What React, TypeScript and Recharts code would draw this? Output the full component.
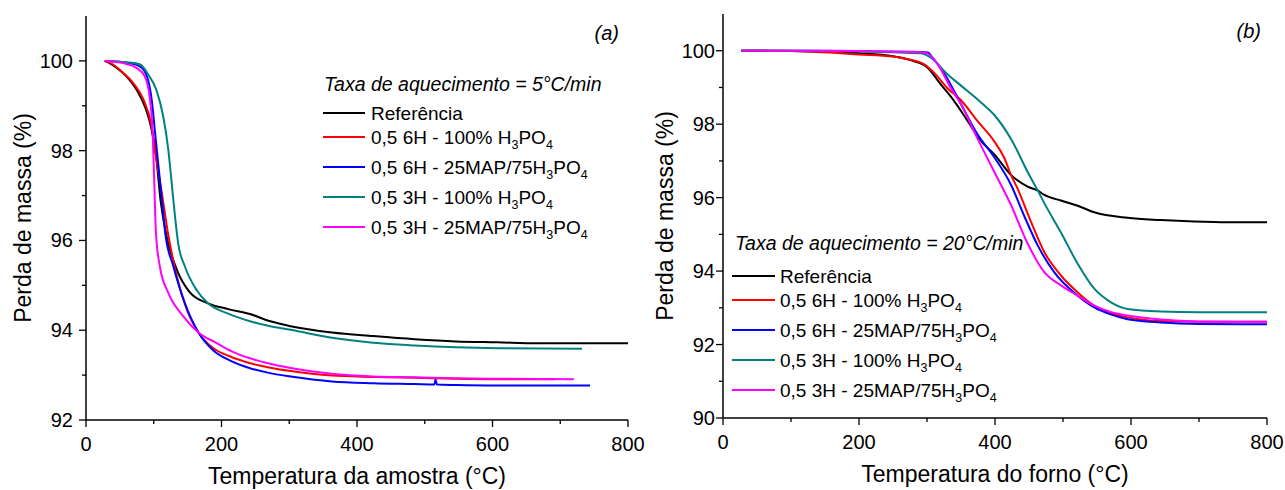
import React from "react";
import { LineChart, Line, XAxis, YAxis, Legend } from "recharts";

const FONT = "'Liberation Sans', Arial, Helvetica, sans-serif";

type Pt = { t: number; m: number };
const pts = (arr: number[][]): Pt[] => arr.map(([t, m]) => ({ t, m }));

// (a) taxa 5 °C/min — temperatura da amostra
const refA = pts([
  [28, 100], [45, 99.85], [60, 99.65], [75, 99.35], [87, 98.98], [97, 98.46], [104, 97.8],
  [110, 96.9], [119, 96.09], [134, 95.35], [153, 94.85], [180, 94.6], [210, 94.47], [242, 94.36],
  [272, 94.2], [302, 94.09], [363, 93.95], [424, 93.87], [485, 93.8], [546, 93.75], [607, 93.73],
  [668, 93.71], [730, 93.71], [800, 93.71],
]);
const red6A = pts([
  [27, 100], [40, 99.92], [55, 99.73], [70, 99.5], [85, 99.13], [97, 98.54], [104, 97.8],
  [112, 97.05], [121, 96.16], [134, 95.2], [149, 94.45], [166, 93.95], [186, 93.62],
  [212, 93.42], [241, 93.27], [270, 93.17], [302, 93.09], [363, 92.99], [424, 92.96],
  [485, 92.94], [546, 92.92], [607, 92.91], [692, 92.91],
]);
const map6A = pts([
  [29, 100], [60, 99.96], [80, 99.87], [90, 99.65], [97, 99.13], [102, 98.39], [107, 97.65],
  [112, 96.9], [117, 96.16], [129, 95.42], [146, 94.6], [166, 93.95], [188, 93.55],
  [212, 93.33], [241, 93.16], [270, 93.05], [302, 92.97], [363, 92.86], [424, 92.82],
  [485, 92.8], [514, 92.79], [516, 92.9], [518, 92.79], [546, 92.78], [607, 92.77], [744, 92.77],
]);
const h3A = pts([
  [29, 100], [60, 99.97], [80, 99.92], [92, 99.69], [104, 99.35], [114, 98.76], [121.5, 98.02],
  [126.5, 97.28], [131.4, 96.53], [136, 95.94], [146, 95.42], [163, 94.9], [180, 94.6],
  [210, 94.37], [242, 94.2], [272, 94.09], [302, 94.01], [363, 93.83], [424, 93.72],
  [485, 93.66], [546, 93.62], [607, 93.6], [732, 93.59],
]);
const map3A = pts([
  [28, 100], [55, 99.95], [75, 99.84], [87, 99.65], [94.5, 99.13], [98.4, 98.39], [100.8, 97.28],
  [103.3, 96.16], [109, 95.42], [121.5, 94.83], [143.6, 94.31], [166, 93.95], [192, 93.72],
  [215, 93.53], [241, 93.38], [270, 93.26], [302, 93.16], [363, 93.03], [424, 92.97],
  [485, 92.95], [546, 92.93], [607, 92.92], [720, 92.91],
]);

// (b) taxa 20 °C/min — temperatura do forno
const refB = pts([
  [27, 100], [100, 99.99], [200, 99.93], [250, 99.85], [280, 99.72], [300, 99.55], [320, 99.09],
  [340, 98.63], [360, 98.08], [379, 97.55], [399, 97.18], [423.5, 96.62], [448, 96.3],
  [463, 96.19], [472, 96.08], [497, 95.92], [521.6, 95.78], [546, 95.6], [595, 95.45],
  [644, 95.39], [693, 95.35], [742, 95.33], [800, 95.33],
]);
const red6B = pts([
  [27, 100], [100, 99.99], [200, 99.9], [250, 99.84], [272, 99.77], [296, 99.63], [310, 99.41],
  [330, 98.98], [350, 98.65], [374.5, 98.08], [399, 97.53], [413.7, 97.08], [423.5, 96.62],
  [433, 96.25], [453, 95.34], [472.5, 94.52], [497, 93.88], [521.6, 93.42], [546, 93.06],
  [570, 92.86], [595, 92.74], [644, 92.64], [700, 92.62], [800, 92.62],
]);
const map6B = pts([
  [27, 100], [100, 100], [200, 99.99], [280, 99.97], [301, 99.95], [310, 99.77], [323, 99.45],
  [340, 98.9], [350, 98.55], [374.5, 97.72], [399, 97.1], [423.5, 96.35], [443, 95.5],
  [462.8, 94.7], [487, 93.97], [521.6, 93.33], [546, 93.01], [570, 92.82], [595, 92.69],
  [644, 92.6], [700, 92.56], [800, 92.55],
]);
const h3B = pts([
  [27, 100], [100, 100], [200, 99.98], [290, 99.93], [305, 99.82], [330, 99.36], [350, 99.05],
  [379, 98.6], [399, 98.25], [425, 97.55], [448, 96.7], [463, 96.19], [472.5, 95.85], [497, 95.05],
  [521.6, 94.2], [546, 93.52], [570.6, 93.15], [595, 92.97], [644, 92.9], [700, 92.88],
  [800, 92.88],
]);
const map3B = pts([
  [27, 100], [100, 100], [200, 99.99], [290, 99.96], [301, 99.92], [315.7, 99.63], [335, 98.99],
  [350, 98.54], [374.5, 97.6], [399, 96.7], [423.5, 95.8], [448, 94.75], [472.5, 93.97],
  [497, 93.61], [521.6, 93.33], [546, 93.06], [570, 92.89], [595, 92.79], [644, 92.68],
  [700, 92.63], [800, 92.62],
]);

const names = [
  "Referência",
  "0,5 6H - 100% H3PO4",
  "0,5 6H - 25MAP/75H3PO4",
  "0,5 3H - 100% H3PO4",
  "0,5 3H - 25MAP/75H3PO4",
];
const colors = ["#000000", "#ff0000", "#0000ff", "#008080", "#ff00ff"];

const xTicks = [0, 100, 200, 300, 400, 500, 600, 700, 800];
const yTicksA = [92, 93, 94, 95, 96, 97, 98, 99, 100];
const yTicksB = [90, 91, 92, 93, 94, 95, 96, 97, 98, 99, 100];

const seriesA = [refA, red6A, map6A, h3A, map3A];
const seriesB = [refB, red6B, map6B, h3B, map3B];

function formula(name: string) {
  const m = name.match(/^(.*)H3PO4$/);
  if (!m) return name;
  return [
    <tspan key="a">{m[1]}H</tspan>,
    <tspan key="b" dy={5} fontSize={12.5}>3</tspan>,
    <tspan key="c" dy={-5}>PO</tspan>,
    <tspan key="d" dy={5} fontSize={12.5}>4</tspan>,
  ];
}

const xTick = (side: "top" | "bottom") => (p: any) => {
  const { x, y, payload } = p;
  const major = payload.value % 200 === 0;
  const d = side === "top" ? -1 : 1;
  return (
    <g>
      <line x1={x} x2={x} y1={y} y2={y + d * (major ? 7 : 4)} stroke="#000" strokeWidth={1.3} />
      {major && side === "bottom" && (
        <text x={x} y={y + 31} textAnchor="middle" fontSize={20} fill="#000" fontFamily={FONT}>
          {payload.value}
        </text>
      )}
    </g>
  );
};

const yTick = (side: "left" | "right", gap: number) => (p: any) => {
  const { x, y, payload } = p;
  const major = payload.value % 2 === 0;
  const d = side === "left" ? -1 : 1;
  return (
    <g>
      <line x1={x} x2={x + d * (major ? 7 : 4)} y1={y} y2={y} stroke="#000" strokeWidth={1.3} />
      {major && side === "left" && (
        <text x={x - gap} y={y + 7} textAnchor="end" fontSize={20} fill="#000" fontFamily={FONT}>
          {payload.value}
        </text>
      )}
    </g>
  );
};

type LegendCfg = {
  title: string;
  tag: string;
  tagX: number;
  tagY: number;
  left: number;
  top: number;
  titleX: number;
  titleY: number;
  lineX1: number;
  lineX2: number;
  textX: number;
  rows: number[];
};

const legendA: LegendCfg = {
  title: "Taxa de aquecimento = 5°C/min",
  tag: "(a)", tagX: 619, tagY: 40,
  left: 300, top: 60,
  titleX: 324, titleY: 91,
  lineX1: 323, lineX2: 365, textX: 371,
  rows: [113, 137, 167, 197, 227],
};
const legendB: LegendCfg = {
  title: "Taxa de aquecimento = 20°C/min",
  tag: "(b)", tagX: 1261, tagY: 38,
  left: 85, top: 225,
  titleX: 735, titleY: 250,
  lineX1: 732, lineX2: 775, textX: 780,
  rows: [276, 300, 330, 360, 390],
};

function legendContent(cfg: LegendCfg, pageLeft: number) {
  const ox = pageLeft + cfg.left;
  const oy = cfg.top;
  return () => (
    <svg width={340} height={185} style={{ display: "block", overflow: "visible" }}>
      <text x={cfg.tagX - ox} y={cfg.tagY - oy} textAnchor="end" fontSize={20} fontStyle="italic" fill="#000" fontFamily={FONT}>
        {cfg.tag}
      </text>
      <text x={cfg.titleX - ox} y={cfg.titleY - oy} fontSize={19.5} fontStyle="italic" fill="#000" fontFamily={FONT}>
        {cfg.title}
      </text>
      {names.map((n, i) => (
        <g key={n}>
          <line x1={cfg.lineX1 - ox} x2={cfg.lineX2 - ox} y1={cfg.rows[i] - oy} y2={cfg.rows[i] - oy} stroke={colors[i]} strokeWidth={2} />
          <text x={cfg.textX - ox} y={cfg.rows[i] - oy + 6.5} fontSize={19} fill="#000" fontFamily={FONT}>
            {formula(n)}
          </text>
        </g>
      ))}
    </svg>
  );
}

type PanelProps = {
  pageLeft: number;
  width: number;
  margin: { top: number; right: number; bottom: number; left: number };
  yWidth: number;
  xHeight: number;
  yDomain: [number, number];
  yTicks: number[];
  series: Pt[][];
  xTitle: string;
  legend: LegendCfg;
  labelGap: number;
  yTitleX: number;
  xTitleDy: number;
};

function Panel(p: PanelProps) {
  return (
    <div style={{ position: "absolute", left: p.pageLeft, top: 0 }}>
      <LineChart width={p.width} height={490} margin={p.margin}>
        <XAxis
          dataKey="t"
          type="number"
          domain={[0, 800]}
          ticks={xTicks}
          interval={0}
          height={p.xHeight}
          allowDataOverflow
          stroke="#000"
          axisLine={{ stroke: "#000", strokeWidth: 1.5 }}
          tickLine={false}
          tickSize={0}
          tickMargin={0}
          tick={xTick("bottom")}
          label={(lp: any) => {
            const vb = lp.viewBox;
            return (
              <text x={vb.x + vb.width / 2} y={vb.y + p.xTitleDy} textAnchor="middle" fontSize={23} fill="#000" fontFamily={FONT}>
                {p.xTitle}
              </text>
            );
          }}
        />
        <XAxis
          xAxisId="top"
          orientation="top"
          dataKey="t"
          type="number"
          domain={[0, 800]}
          ticks={xTicks}
          interval={0}
          height={0}
          allowDataOverflow
          axisLine={{ stroke: "#000", strokeWidth: 1.5 }}
          tickLine={false}
          tickSize={0}
          tickMargin={0}
          tick={xTick("top")}
        />
        <YAxis
          type="number"
          domain={p.yDomain}
          ticks={p.yTicks}
          interval={0}
          width={p.yWidth}
          allowDataOverflow
          axisLine={{ stroke: "#000", strokeWidth: 1.5 }}
          tickLine={false}
          tickSize={0}
          tickMargin={0}
          tick={yTick("left", p.labelGap)}
          label={(lp: any) => {
            const vb = lp.viewBox;
            const cx = vb.x + p.yTitleX;
            const cy = vb.y + vb.height / 2;
            return (
              <text x={cx} y={cy} transform={`rotate(-90, ${cx}, ${cy})`} textAnchor="middle" fontSize={23} fill="#000" fontFamily={FONT}>
                Perda de massa (%)
              </text>
            );
          }}
        />
        <YAxis
          yAxisId="r"
          orientation="right"
          type="number"
          domain={p.yDomain}
          ticks={p.yTicks}
          interval={0}
          width={0}
          allowDataOverflow
          axisLine={{ stroke: "#000", strokeWidth: 1.5 }}
          tickLine={false}
          tickSize={0}
          tickMargin={0}
          tick={yTick("right", 0)}
        />
        <Legend
          layout="horizontal"
          verticalAlign="middle"
          align="center"
          wrapperStyle={{ position: "absolute", left: p.legend.left, top: p.legend.top, width: 340, height: 185 }}
          content={legendContent(p.legend, p.pageLeft)}
        />
        {p.series.map((d, i) => (
          <Line
            key={names[i]}
            data={d}
            dataKey="m"
            name={names[i]}
            type="monotoneX"
            stroke={colors[i]}
            strokeWidth={2}
            dot={false}
            activeDot={false}
            isAnimationActive={false}
          />
        ))}
      </LineChart>
    </div>
  );
}

export default function App() {
  return (
    <div style={{ position: "fixed", left: 0, top: 0, width: 1285, height: 490, background: "#fff", fontFamily: FONT }}>
      <Panel
        pageLeft={0}
        width={700}
        margin={{ top: 16, right: 72, bottom: 0, left: 0 }}
        yWidth={86}
        xHeight={70}
        yDomain={[92, 101]}
        yTicks={yTicksA}
        series={seriesA}
        xTitle="Temperatura da amostra (°C)"
        legend={legendA}
        labelGap={13}
        yTitleX={31}
        xTitleDy={64}
      />
      <Panel
        pageLeft={640}
        width={645}
        margin={{ top: 14, right: 18, bottom: 0, left: 0 }}
        yWidth={83}
        xHeight={72}
        yDomain={[90, 101]}
        yTicks={yTicksB}
        series={seriesB}
        xTitle="Temperatura do forno (°C)"
        legend={legendB}
        labelGap={8}
        yTitleX={33}
        xTitleDy={64}
      />
    </div>
  );
}
